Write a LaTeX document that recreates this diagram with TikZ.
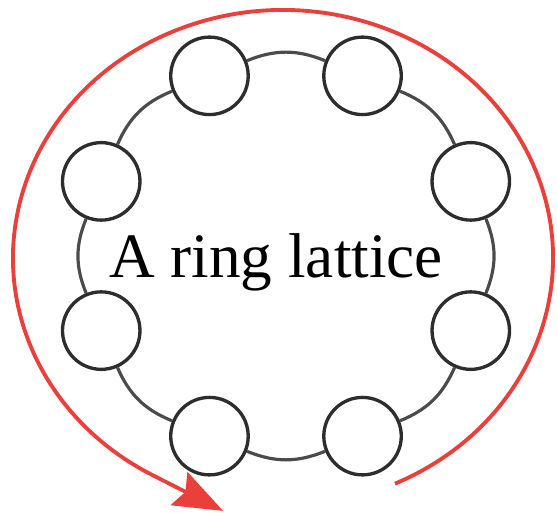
\documentclass[tikz,border=0pt]{standalone}
\usepackage{fontspec}
\setmainfont{Liberation Serif}
\usepackage{tikz}
\usetikzlibrary{arrows.meta}
\definecolor{ringred}   {RGB}{234, 64, 60}
\definecolor{sitegray}  {RGB}{ 45, 45, 45}
\definecolor{linkgray}  {RGB}{ 75, 75, 75}

\begin{document}
\begin{tikzpicture}[x=0.02cm,y=0.02cm,
		site/.style={circle,draw=sitegray,line width=1.9pt,fill=white,minimum size=1.55cm,inner sep=0pt},
		link/.style={draw=linkgray,line width=1.8pt},
		spin/.style={draw=ringred,line width=2.2pt,-{Stealth[length=28pt,width=21pt,inset=4pt]}}]
	\useasboundingbox (0,0) rectangle (557,513);
	% the eight sites, clockwise from the top left
	\foreach \i in {1,...,8}
		\node[site] (s\i) at ({286+200*cos(112.5-45*(\i-1))},{257+195*sin(112.5-45*(\i-1))}) {};
	\foreach \i/\j in {1/2,2/3,3/4,4/5,5/6,6/7,7/8,8/1}
		\draw[link] (s\i) to[bend left=22] (s\j);
	\node[anchor=base,font=\fontsize{36}{40}\selectfont] (title) at (276,235) {A ring lattice};
	% red turn round the ring
	\coordinate (spinstart) at ({283+270*cos(-65.5)},{255+248*sin(-65.5)});
	\draw[spin] (spinstart) arc[start angle=-65.5,end angle=241,x radius=270,y radius=248] -- ++(71,-36);
\end{tikzpicture}
\end{document}
